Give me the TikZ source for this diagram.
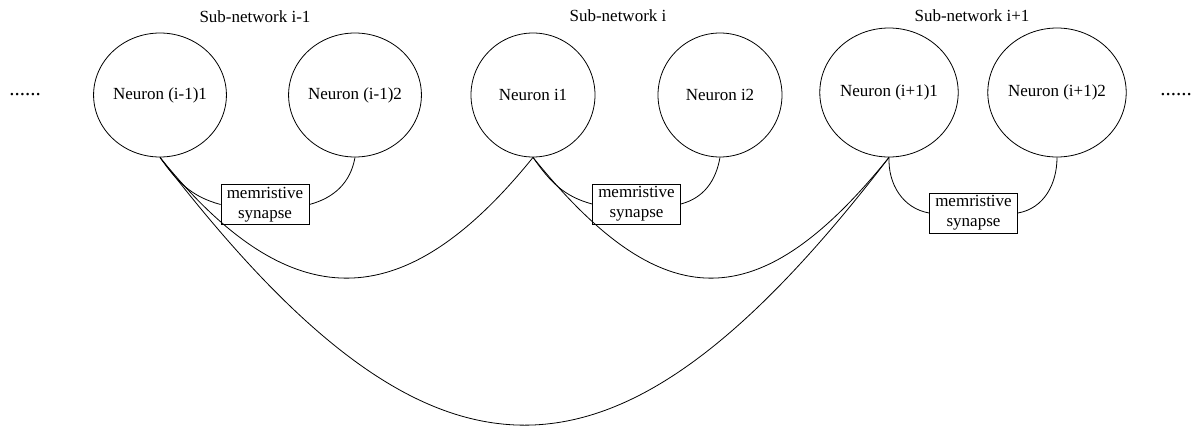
\documentclass[tikz,border=0pt]{standalone}
\usepackage{fontspec}
\setmainfont{Liberation Serif}
\usetikzlibrary{shapes.geometric}
\begin{document}
\begin{tikzpicture}[x=1pt,y=-1pt,
  neuron/.style={draw,line width=0.8pt,ellipse,inner sep=0pt,minimum width=124pt,minimum height=124pt,font=\fontsize{17}{20}\selectfont},
  neuronb/.style={neuron,minimum width=128pt,minimum height=129pt},
  synbox/.style={draw,line width=0.8pt,rectangle,inner sep=0pt,minimum width=88pt,minimum height=40pt,align=center,font=\fontsize{17}{20}\selectfont},
  lbl/.style={font=\fontsize{17}{20}\selectfont,inner sep=0pt},
  dots/.style={font=\fontsize{21}{24}\selectfont,inner sep=0pt,anchor=base},
  wire/.style={draw,line width=0.8pt}
]
\useasboundingbox (0,0) rectangle (1197,426);
\node[neuron] (n11) at (160,95) {Neuron (i-1)1};
\node[neuron] (n12) at (355,95) {Neuron (i-1)2};
\node[neuron] (n21) at (533,95) {Neuron i1};
\node[neuron] (n22) at (720,95) {Neuron i2};
\node[neuronb] (n31) at (889,92.5) {Neuron (i+1)1};
\node[neuronb] (n32) at (1057,92.5) {Neuron (i+1)2};
\node[lbl] (s1) at (255,17) {Sub-network i-1};
\node[lbl] (s2) at (618,16) {Sub-network i};
\node[lbl] (s3) at (972,16) {Sub-network i+1};
\node[dots] (dl) at (25,95.5) {......};
\node[dots] (dr) at (1176,95.5) {......};
\node[synbox] (b1) at (265,204.5) {memristive\\synapse};
\node[synbox] (b2) at (636.5,204) {memristive\\synapse};
\node[synbox] (b3) at (973.5,213) {memristive\\synapse};
\draw[wire] (n11.south) to[out=-55,in=165] (b1.west);
\draw[wire] (b1.east) to[out=15,in=-100] (n12.south);
\draw[wire] (n21.south) to[out=-55,in=165] (b2.west);
\draw[wire] (b2.east) to[out=15,in=-100] (n22.south);
\draw[wire] (n31.south) to[out=-92,in=170] (b3.west);
\draw[wire] (b3.east) to[out=10,in=-90] (n32.south);
\draw[wire] (n11.south) .. controls +(130,161) and +(-130,161) .. (n21.south);
\draw[wire] (n21.south) .. controls +(130,161) and +(-130,161) .. (n31.south);
\draw[wire] (n11.south) .. controls +(274,357) and +(-274,357) .. (n31.south);
\end{tikzpicture}
\end{document}
